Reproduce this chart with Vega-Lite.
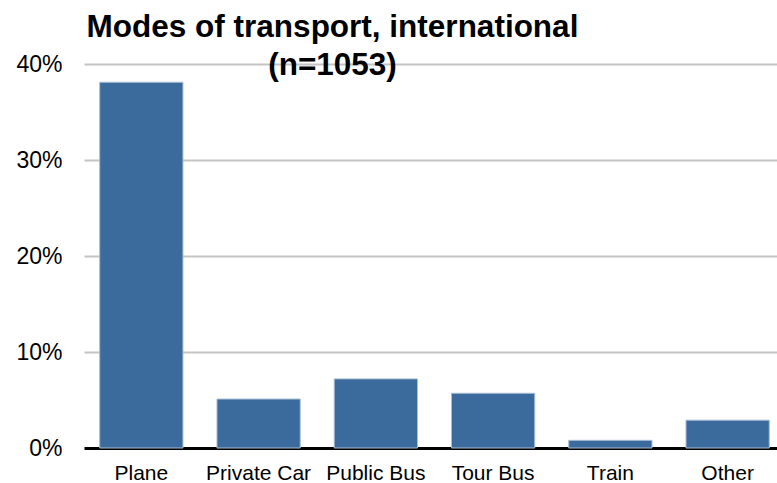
{
  "$schema": "https://vega.github.io/schema/vega-lite/v6.json",
  "width": 693,
  "height": 384,
  "autosize": "none",
  "padding": {"left": 84, "top": 64, "right": 0, "bottom": 35},
  "background": "white",
  "title": {
    "text": ["Modes of transport, international", "(n=1053)"],
    "fontSize": 31.5,
    "font": "Liberation Sans",
    "fontWeight": "bold",
    "color": "black",
    "anchor": "middle",
    "frame": "group",
    "align": "center",
    "dx": -98,
    "baseline": "top",
    "lineHeight": 38,
    "offset": -16,
    "dy": 12
  },
  "data": {
    "values": [
      {"mode": "Plane", "share": 0.381},
      {"mode": "Private Car", "share": 0.051},
      {"mode": "Public Bus", "share": 0.072},
      {"mode": "Tour Bus", "share": 0.057},
      {"mode": "Train", "share": 0.008},
      {"mode": "Other", "share": 0.029}
    ]
  },
  "mark": {"type": "bar", "color": "#3a6b9c", "stroke": "#a8bdd4", "strokeWidth": 1},
  "encoding": {
    "x": {
      "field": "mode",
      "type": "nominal",
      "sort": null,
      "scale": {"paddingInner": 0.29, "paddingOuter": 0.1, "align": 0.67},
      "axis": {
        "title": null,
        "labelAngle": 0,
        "labelFont": "Liberation Sans",
        "labelFontSize": 21,
        "labelColor": "black",
        "labelPadding": 14,
        "ticks": false,
        "domainColor": "black",
        "domainWidth": 3
      }
    },
    "y": {
      "field": "share",
      "type": "quantitative",
      "scale": {"domain": [0, 0.4], "nice": false},
      "axis": {
        "title": null,
        "format": ".0%",
        "values": [0, 0.1, 0.2, 0.3, 0.4],
        "labelFont": "Liberation Sans",
        "labelFontSize": 23,
        "labelColor": "black",
        "labelPadding": 22,
        "ticks": false,
        "domain": false,
        "gridColor": "#c4c4c4",
        "gridWidth": 2
      }
    }
  },
  "config": {"view": {"stroke": null}}
}
